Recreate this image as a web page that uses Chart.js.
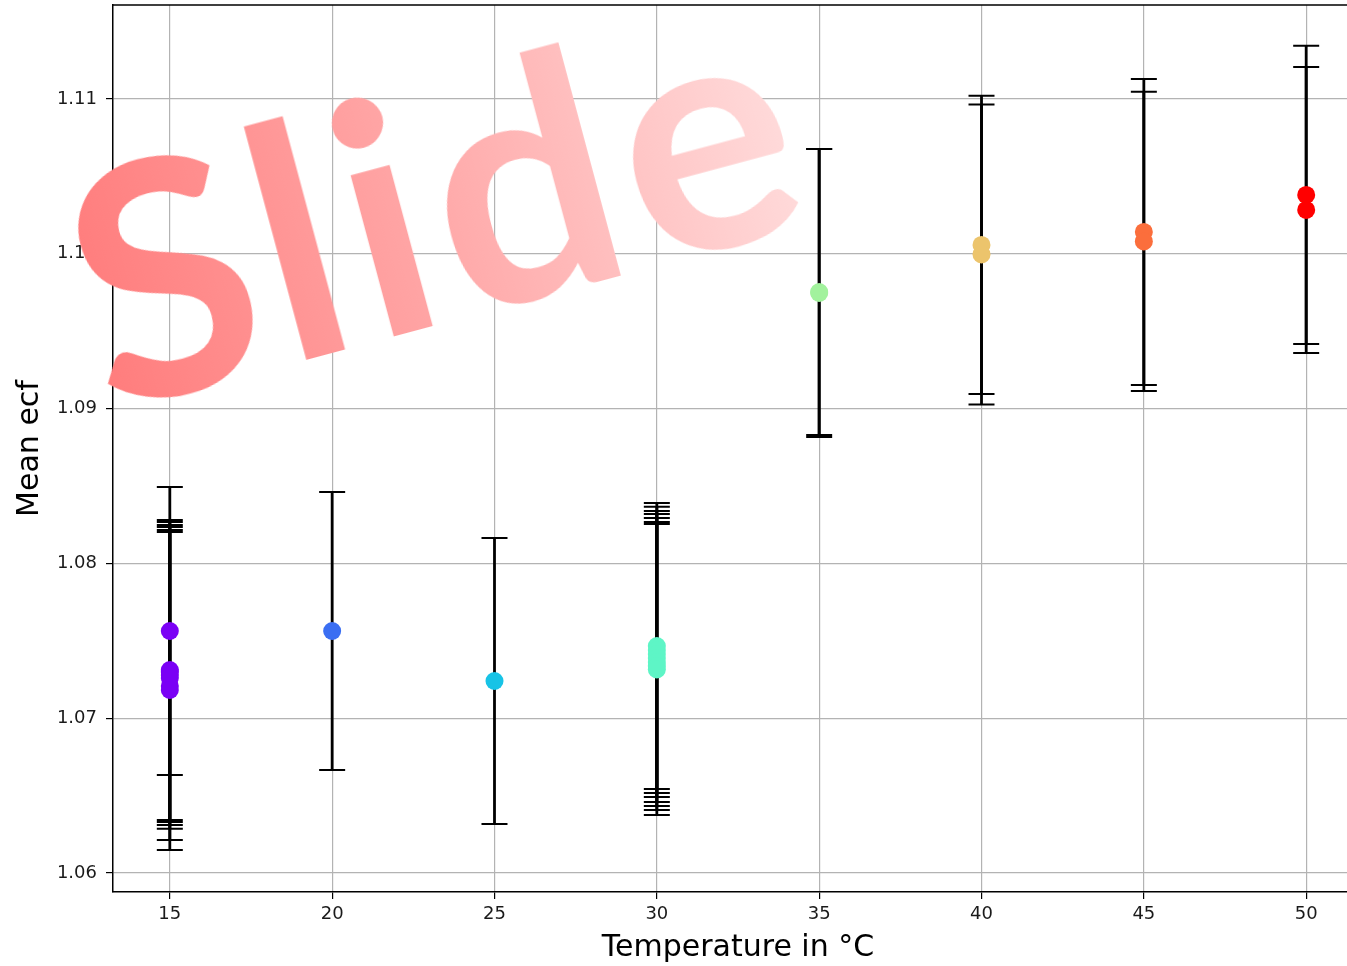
<!DOCTYPE html>
<html>
<head>
<meta charset="utf-8">
<title>Mean ecf vs temperature</title>
<script src="https://cdn.jsdelivr.net/npm/chart.js@4.4.1/dist/chart.umd.min.js"></script>
<style>
  html, body { margin: 0; padding: 0; background: #fff; overflow: hidden; }
  #wrap { position: relative; top: -4px; width: 1380px; height: 970px; }
  #watermark {
    position: absolute;
    left: 108px;
    top: 129px;
    font-family: "Lato", "Open Sans", sans-serif;
    font-weight: 700;
    font-size: 325px;
    line-height: 1;
    letter-spacing: 9px;
    white-space: nowrap;
    transform-origin: 0 288px;
    transform: rotate(-15deg);
    background: linear-gradient(90deg, #ff7c7c 0%, #ffa4a4 45%, #ffdcdc 100%);
    -webkit-background-clip: text;
    background-clip: text;
    color: transparent;
    pointer-events: none;
  }
</style>
</head>
<body>
<div id="wrap">
  <canvas id="ecfChart"></canvas>
  <div id="watermark">Slide</div>
</div>
<script>
// datos
const temperatures = [15, 15, 15, 15, 15, 15, 15,
                      20,
                      25,
                      30, 30, 30, 30, 30, 30, 30,
                      35, 35,
                      40, 40,
                      45, 45,
                      50, 50];
const meanEcf = [1.07563, 1.07311, 1.07298, 1.07279, 1.07260, 1.07208, 1.07182,
                 1.07563,
                 1.07240,
                 1.07466, 1.07441, 1.07415, 1.07389, 1.07363, 1.07337, 1.07315,
                 1.09753, 1.09747,
                 1.10057, 1.09996,
                 1.10141, 1.10080,
                 1.10380, 1.10283];
const ecfError = [0.00930, 0.00969, 0.00969, 0.00969, 0.00975, 0.00995, 0.01034,
                  0.00898,
                  0.00924,
                  0.00924, 0.00924, 0.00924, 0.00930, 0.00930, 0.00930, 0.00940,
                  0.00924, 0.00930,
                  0.00963, 0.00969,
                  0.00988, 0.00966,
                  0.00963, 0.00924];
const tempLevels = [15, 20, 25, 30, 35, 40, 45, 50];
const levelColors = ['#7a00f5', '#3a6ef2', '#17c3e6', '#5ef5c6', '#a2f29d', '#ecc46c', '#fb6e3c', '#ff0000'];
const xTicks = [15, 20, 25, 30, 35, 40, 45, 50];
const yTicks = [1.06, 1.07, 1.08, 1.09, 1.10, 1.11];

(function(){

  const tickFont = { family: 'DejaVu Sans', size: 18 };
  const titleFont = { family: 'DejaVu Sans', size: 30 };

  function colorFor(t) {
    return levelColors[tempLevels.indexOf(t)];
  }

  // barras de error: linea vertical + topes
  const errorBars = {
    id: 'errorBars',
    beforeDatasetsDraw(chart) {
      const { ctx, scales: { x, y } } = chart;
      ctx.save();
      ctx.strokeStyle = '#000';
      for (let i = 0; i < temperatures.length; i++) {
        const px = x.getPixelForValue(temperatures[i]);
        const top = y.getPixelForValue(meanEcf[i] + ecfError[i]);
        const bot = y.getPixelForValue(meanEcf[i] - ecfError[i]);
        ctx.lineWidth = 2.8;
        ctx.beginPath();
        ctx.moveTo(px, top);
        ctx.lineTo(px, bot);
        ctx.stroke();
        ctx.lineWidth = 2;
        ctx.beginPath();
        ctx.moveTo(px - 13, top); ctx.lineTo(px + 13, top);
        ctx.moveTo(px - 13, bot); ctx.lineTo(px + 13, bot);
        ctx.stroke();
      }
      ctx.restore();
    }
  };

  // marco superior y derecho
  const frame = {
    id: 'frame',
    afterDraw(chart) {
      const { ctx, chartArea: a } = chart;
      ctx.save();
      ctx.strokeStyle = '#000';
      ctx.lineWidth = 1.5;
      ctx.beginPath();
      ctx.moveTo(a.left, a.top);
      ctx.lineTo(a.right, a.top);
      ctx.lineTo(a.right, a.bottom);
      ctx.stroke();
      ctx.restore();
    }
  };

  function render() {
    const ctx = document.getElementById('ecfChart').getContext('2d');
    new Chart(ctx, {
      type: 'scatter',
      data: {
        datasets: [{
          label: 'Mean ecf',
          data: temperatures.map((t, i) => ({ x: t, y: meanEcf[i] })),
          pointRadius: 9,
          pointHoverRadius: 9,
          pointBorderWidth: 0,
          pointBackgroundColor: temperatures.map(colorFor),
          pointBorderColor: temperatures.map(colorFor)
        }]
      },
      options: {
        responsive: true,
        maintainAspectRatio: false,
        animation: false,
        layout: { padding: { top: 1, right: 17, left: 0, bottom: 0 } },
        plugins: {
          legend: { display: false },
          tooltip: { enabled: false }
        },
        scales: {
          x: {
            type: 'linear',
            min: 13.25,
            max: 51.75,
            afterBuildTicks: s => { s.ticks = xTicks.map(v => ({ value: v })); },
            afterFit: s => { s.height = 74; s.paddingLeft = 0; s.paddingRight = 0; },
            ticks: { font: tickFont, color: '#1a1a1a', padding: 5, callback: v => String(v) },
            grid: { color: '#b3b3b3', lineWidth: 1.2, tickLength: 7, tickColor: '#000', tickWidth: 1.2 },
            border: { color: '#000', width: 1.5 },
            title: { display: true, text: 'Temperature in °C', font: titleFont, color: '#000', padding: { top: 0, bottom: 0 } }
          },
          y: {
            type: 'linear',
            min: 1.05877,
            max: 1.11607,
            afterBuildTicks: s => { s.ticks = yTicks.map(v => ({ value: v })); },
            afterFit: s => { s.width = 113; s.paddingTop = 0; s.paddingBottom = 0; },
            ticks: { font: tickFont, color: '#1a1a1a', padding: 9, callback: v => v.toFixed(2) },
            grid: { color: '#b3b3b3', lineWidth: 1.2, tickLength: 7, tickColor: '#000', tickWidth: 1.2 },
            border: { color: '#000', width: 1.5 },
            title: { display: true, text: 'Mean ecf', font: titleFont, color: '#000', padding: { top: 12, bottom: 0 } }
          }
        }
      },
      plugins: [errorBars, frame]
    });
  }

  if (document.readyState === 'complete' || document.readyState === 'interactive') render();
  else document.addEventListener('DOMContentLoaded', render);

})();
</script>
</body>
</html>
